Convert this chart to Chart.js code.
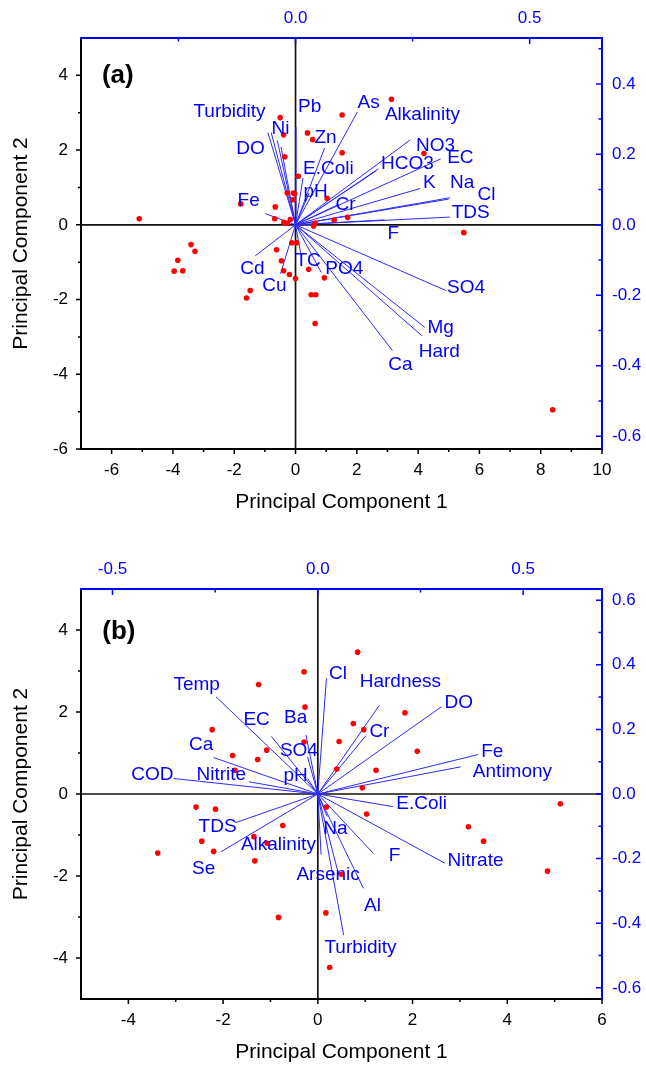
<!DOCTYPE html>
<html>
<head>
<meta charset="utf-8">
<script src="https://cdn.jsdelivr.net/npm/chart.js@4.4.0/dist/chart.umd.min.js"></script>
<style>
  body { margin: 0; background: #fff; }
  .panel { position: absolute; left: 0; width: 646px; }
</style>
</head>
<body>
<div class="panel" style="top:0;height:516px"><canvas id="chartA"></canvas></div>
<div class="panel" style="top:516px;height:550px"><canvas id="chartB"></canvas></div>
<script>
// ---------- panel (a) ----------
const scoresAX = [-5.10, 3.13, 1.52, -0.50, 0.39, 0.56, -0.39, 1.52, 4.19, -0.35, 0.09, -0.27, -0.07, -0.03, -0.08, 1.03,
  -1.79, -0.66, -0.68, -0.38, -0.17, -0.28, 1.70, 1.26, 0.64, 0.59, 5.49, -0.12, 0.04, -3.41, -3.28, -0.62, -3.84, -0.46,
  -3.96, -3.68, -0.39, -0.20, 0.43, 0.00, 0.94, -1.48, -1.60, 0.51, 0.66, 0.64, 8.39];
const scoresAY = [0.16, 3.36, 2.94, 2.87, 2.46, 2.28, 2.41, 1.93, 1.91, 1.82, 1.30, 0.85, 0.85, 0.83, 0.67, 0.71,
  0.56, 0.48, 0.16, 0.07, 0.14, 0.04, 0.20, 0.13, 0.04, -0.03, -0.21, -0.48, -0.48, -0.53, -0.71, -0.67, -0.95, -0.96,
  -1.24, -1.23, -1.23, -1.33, -1.19, -1.44, -1.42, -1.76, -1.96, -1.87, -1.87, -2.64, -4.95];

const loadANames = ['Turbidity', '', 'Ni', 'DO', 'Pb', 'Zn', 'E.Coli', 'pH', 'As', 'Alkalinity', 'HCO3', 'NO3', 'EC', 'K',
  'Na', 'Cl', 'TDS', 'F', 'Cr', 'Fe', 'Cd', 'Cu', 'TC', 'PO4', 'Ca', 'Hard', 'Mg', 'SO4'];
const loadAX = [-0.059, -0.052, -0.039, -0.031, 0.001, 0.062, 0.016, 0.029, 0.132, 0.177, 0.173, 0.245, 0.310, 0.266,
  0.330, 0.327, 0.330, 0.190, 0.092, -0.065, -0.086, -0.032, 0.012, 0.055, 0.207, 0.270, 0.276, 0.322];
const loadAY = [0.262, 0.262, 0.240, 0.221, 0.278, 0.218, 0.133, 0.090, 0.320, 0.159, 0.154, 0.241, 0.187, 0.103,
  0.077, 0.073, 0.022, 0.014, 0.058, 0.032, -0.088, -0.139, -0.088, -0.135, -0.357, -0.315, -0.291, -0.187];
// where each variable name sits (loading units)
const labelAX = [-0.141, null, -0.032, -0.096, 0.030, 0.064, 0.070, 0.043, 0.156, 0.271, 0.239, 0.299, 0.352, 0.286,
  0.356, 0.408, 0.374, 0.209, 0.107, -0.100, -0.092, -0.045, 0.027, 0.104, 0.224, 0.307, 0.310, 0.364];
const labelAY = [0.322, null, 0.274, 0.217, 0.336, 0.248, 0.160, 0.095, 0.346, 0.313, 0.172, 0.223, 0.190, 0.118,
  0.119, 0.085, 0.033, -0.024, 0.058, 0.067, -0.126, -0.174, -0.101, -0.126, -0.396, -0.359, -0.291, -0.179];

const rangeAX = [-7, 10];
const rangeAY = [-6, 5];
const kxA = 15.28, kyA = 9.43; // score units per loading unit
const xTicksA = [-6, -4, -2, 0, 2, 4, 6, 8, 10];
const yTicksA = [-6, -4, -2, 0, 2, 4];
const topTicksA = [0, 0.5];
const rightTicksA = [-0.6, -0.4, -0.2, 0, 0.2, 0.4];

// ---------- panel (b) ----------
const scoresBX = [0.84, -0.29, -1.25, -0.27, 1.84, -2.23, 0.75, 0.97, -0.29, 0.45, -1.08, -1.80, 2.10, -1.27, -1.75,
  0.40, 1.23, 0.94, 5.12, -2.57, -2.16, 0.18, 1.03, -0.74, 3.18, -1.35, -2.45, -1.07, 3.50, -3.38, -2.20, -1.33, 4.85,
  0.50, -0.83, 0.17, 0.25];
const scoresBY = [3.46, 2.98, 2.67, 2.12, 1.98, 1.57, 1.72, 1.57, 1.27, 1.28, 1.07, 0.94, 1.04, 0.84, 0.58,
  0.61, 0.58, 0.15, -0.24, -0.32, -0.37, -0.32, -0.49, -0.77, -0.80, -1.04, -1.15, -1.20, -1.15, -1.44, -1.40, -1.63, -1.88,
  -1.96, -3.01, -2.90, -4.23];

const loadBNames = ['Temp', 'EC', 'Ba', 'SO4', 'Ca', 'COD', 'Nitrite', 'pH', 'Cl', 'Hardness', 'Cr', 'DO', 'Fe',
  'Antimony', 'E.Coli', 'TDS', 'Se', 'Alkalinity', 'Arsenic', 'Na', 'Turbidity', 'Al', 'F', 'Nitrate'];
const loadBX = [-0.248, -0.113, -0.029, -0.025, -0.254, -0.351, -0.168, -0.025, 0.021, 0.150, 0.116, 0.301, 0.390,
  0.348, 0.183, -0.201, -0.236, 0.008, 0.051, 0.023, 0.063, 0.111, 0.136, 0.309];
const loadBY = [0.301, 0.178, 0.183, 0.115, 0.113, 0.048, 0.038, 0.048, 0.358, 0.275, 0.179, 0.270, 0.122,
  0.084, -0.039, -0.089, -0.179, -0.188, -0.251, -0.070, -0.437, -0.292, -0.185, -0.214];
const labelBX = [-0.295, -0.149, -0.054, -0.046, -0.284, -0.403, -0.235, -0.054, 0.049, 0.201, 0.150, 0.343, 0.425,
  0.474, 0.253, -0.244, -0.278, -0.096, 0.025, 0.043, 0.104, 0.133, 0.187, 0.384];
const labelBY = [0.337, 0.229, 0.235, 0.133, 0.152, 0.059, 0.059, 0.056, 0.371, 0.348, 0.193, 0.282, 0.131,
  0.069, -0.031, -0.101, -0.232, -0.158, -0.251, -0.108, -0.477, -0.347, -0.192, -0.206];

const rangeBX = [-5, 6];
const rangeBY = [-5, 5];
const kxB = 8.67, kyB = 7.88;
const xTicksB = [-4, -2, 0, 2, 4, 6];
const yTicksB = [-4, -2, 0, 2, 4];
const topTicksB = [-0.5, 0, 0.5];
const rightTicksB = [-0.6, -0.4, -0.2, 0, 0.2, 0.4, 0.6];

const FONT = "'Liberation Sans', Arial, sans-serif";
const BLUE = '#0000ff';

function tickMarks(ctx, s, len, minorLen, color) {
  const vals = s.ticks.map(t => t.value);
  const step = vals[1] - vals[0];
  const minors = [];
  for (let v = vals[0] - step / 2; v < s.max; v += step) {
    if (v > s.min + 1e-9 && v < s.max - 1e-9) minors.push(v);
  }
  const horiz = s.isHorizontal();
  const edge = s.position === 'bottom' ? s.top : s.position === 'top' ? s.bottom
    : s.position === 'left' ? s.right : s.left;
  const dir = horiz ? 1 : -1;
  ctx.strokeStyle = color;
  ctx.lineWidth = 1.5;
  ctx.beginPath();
  const mark = (v, l) => {
    const p = s.getPixelForValue(v);
    if (horiz) { ctx.moveTo(p, edge); ctx.lineTo(p, edge + dir * l); }
    else { ctx.moveTo(edge, p); ctx.lineTo(edge + dir * l, p); }
  };
  vals.forEach(v => mark(v, len));
  minors.forEach(v => mark(v, minorLen));
  ctx.stroke();
}

function biplotPlugin(p) {
  return {
    id: 'biplot',
    beforeDatasetsDraw(chart) {
      const { ctx, chartArea: a, scales: { x, y } } = chart;
      const px = x.getPixelForValue(0), py = y.getPixelForValue(0);
      ctx.save();
      ctx.strokeStyle = '#111';
      ctx.lineWidth = 1.7;
      ctx.beginPath();
      ctx.moveTo(a.left, py); ctx.lineTo(a.right, py);
      ctx.moveTo(px, a.top); ctx.lineTo(px, a.bottom);
      ctx.stroke();
      ctx.restore();
    },
    afterDatasetsDraw(chart) {
      const { ctx, scales: { x, y, x2, y2 } } = chart;
      ctx.save();
      ctx.fillStyle = BLUE;
      ctx.font = '19px ' + FONT;
      ctx.textAlign = 'center';
      ctx.textBaseline = 'middle';
      p.names.forEach((n, i) => {
        if (!n) return;
        ctx.fillText(n, x2.getPixelForValue(p.lx[i]), y2.getPixelForValue(p.ly[i]));
      });
      ctx.fillStyle = '#000';
      ctx.font = 'bold 26px ' + FONT;
      ctx.fillText(p.panel, x.getPixelForValue(p.panelAt[0]), y.getPixelForValue(p.panelAt[1]));
      ctx.restore();
    },
    afterDraw(chart) {
      const { ctx, scales } = chart;
      ctx.save();
      tickMarks(ctx, scales.x, 5, 3, '#000');
      tickMarks(ctx, scales.y, 5, 3, '#000');
      tickMarks(ctx, scales.x2, 6, 3.5, BLUE);
      tickMarks(ctx, scales.y2, 6, 3.5, BLUE);
      ctx.restore();
    }
  };
}

function makeChart(id, d) {
  const points = {
    data: d.sx.map((v, i) => ({ x: v, y: d.sy[i] })),
    xAxisID: 'x', yAxisID: 'y',
    pointRadius: 2.8, pointBackgroundColor: '#ff0000', pointBorderWidth: 0,
    order: 0
  };
  const vectors = d.names.map((n, i) => ({
    data: [{ x: 0, y: 0 }, { x: d.vx[i], y: d.vy[i] }],
    xAxisID: 'x2', yAxisID: 'y2',
    showLine: true, borderColor: '#2b2bff', borderWidth: 1, pointRadius: 0,
    order: 1
  }));
  const setTicks = arr => s => { s.ticks = arr.map(v => ({ value: v })); };
  const tickFont = { family: FONT, size: 17 };
  const titleFont = { family: FONT, size: 21 };
  return new Chart(document.getElementById(id), {
    type: 'scatter',
    data: { datasets: [points, ...vectors] },
    options: {
      responsive: true,
      maintainAspectRatio: false,
      animation: false,
      layout: { padding: 0 },
      plugins: { legend: { display: false }, tooltip: { enabled: false } },
      scales: {
        x: {
          type: 'linear', position: 'bottom', min: d.rx[0], max: d.rx[1],
          grid: { display: false, drawTicks: false },
          border: { color: '#000', width: 2 },
          ticks: { padding: 11, font: tickFont, color: '#000', autoSkip: false, maxRotation: 0, callback: v => String(v) },
          afterBuildTicks: setTicks(d.xt),
          afterFit: s => { s.height = 67; },
          title: { display: true, text: 'Principal Component 1', font: titleFont, color: '#000', padding: { top: 0, bottom: 1.4 } }
        },
        y: {
          type: 'linear', position: 'left', min: d.ry[0], max: d.ry[1],
          grid: { display: false, drawTicks: false },
          border: { color: '#000', width: 2 },
          ticks: { padding: 13, font: tickFont, color: '#000', autoSkip: false, callback: v => String(v) },
          afterBuildTicks: setTicks(d.yt),
          afterFit: s => { s.width = 81; },
          title: { display: true, text: 'Principal Component 2', font: titleFont, color: '#000', padding: { top: 8.4, bottom: 0 } }
        },
        x2: {
          type: 'linear', position: 'top', min: d.rx[0] / d.kx, max: d.rx[1] / d.kx,
          grid: { display: false, drawTicks: false },
          border: { color: BLUE, width: 2 },
          ticks: { padding: 9, font: tickFont, color: BLUE, autoSkip: false, maxRotation: 0, callback: v => v.toFixed(1) },
          afterBuildTicks: setTicks(d.tt),
          afterFit: s => { s.height = d.topH; }
        },
        y2: {
          type: 'linear', position: 'right', min: d.ry[0] / d.ky, max: d.ry[1] / d.ky,
          grid: { display: false, drawTicks: false },
          border: { color: BLUE, width: 2 },
          ticks: { padding: 10, font: tickFont, color: BLUE, autoSkip: false, callback: v => v.toFixed(1) },
          afterBuildTicks: setTicks(d.rt),
          afterFit: s => { s.width = 44; }
        }
      }
    },
    plugins: [biplotPlugin({ names: d.names, lx: d.lx, ly: d.ly, panel: d.panel, panelAt: d.panelAt })]
  });
}

makeChart('chartA', {
  sx: scoresAX, sy: scoresAY, names: loadANames, vx: loadAX, vy: loadAY, lx: labelAX, ly: labelAY,
  rx: rangeAX, ry: rangeAY, kx: kxA, ky: kyA, xt: xTicksA, yt: yTicksA, tt: topTicksA, rt: rightTicksA,
  topH: 38, panel: '(a)', panelAt: [-5.8, 4.0]
});
makeChart('chartB', {
  sx: scoresBX, sy: scoresBY, names: loadBNames, vx: loadBX, vy: loadBY, lx: labelBX, ly: labelBY,
  rx: rangeBX, ry: rangeBY, kx: kxB, ky: kyB, xt: xTicksB, yt: yTicksB, tt: topTicksB, rt: rightTicksB,
  topH: 73, panel: '(b)', panelAt: [-4.2, 3.95]
});
</script>
</body>
</html>
